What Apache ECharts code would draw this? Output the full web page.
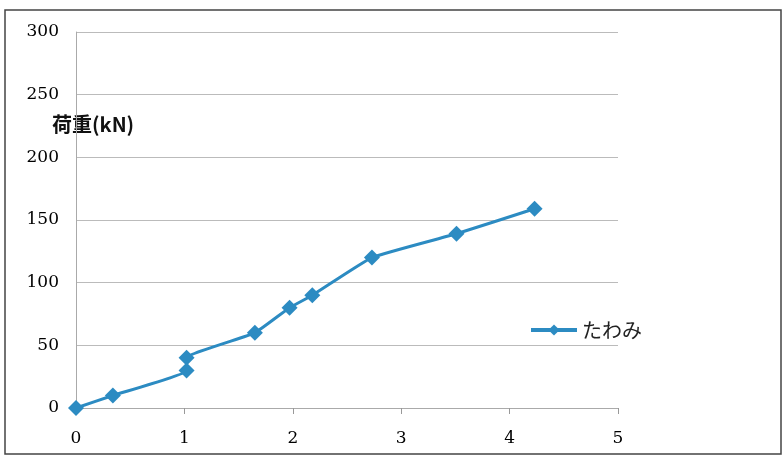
<!DOCTYPE html>
<html><head><meta charset="utf-8">
<script src="https://cdn.jsdelivr.net/npm/echarts@6/dist/echarts.min.js"></script>
<style>html,body{margin:0;padding:0;background:#fff}#c{width:784px;height:459px}</style>
</head><body><div id="c"></div>
<script>
const deflection = [0, 0.34, 1.02, 1.02, 1.65, 1.97, 2.18, 2.73, 3.51, 4.23];
const load = [0, 10, 30, 40, 60, 80, 90, 120, 139, 159];
const seriesName = 'たわみ';
const yTitle = '荷重(kN)';

const chart = echarts.init(document.getElementById('c'));
chart.setOption({
  animation: false,
  backgroundColor: '#fff',
  grid: {left: 76, right: 166, top: 32, bottom: 51},
  legend: {
    data: [seriesName], left: 524, top: 315, itemWidth: 46, itemHeight: 14, itemGap: 4,
    itemStyle: {color: '#2c8bc2'},
    lineStyle: {width: 4, color: '#2c8bc2'},
    textStyle: {fontSize: 20, color: '#222', fontFamily: 'Noto Sans CJK JP', padding: [0, 0, 0, 0]}
  },
  graphic: [
    {type: 'rect', shape: {x: 5, y: 10, width: 776, height: 444}, style: {fill: 'none', stroke: '#444', lineWidth: 1.5}, silent: true},
    {type: 'text', left: 52, top: 114, style: {text: yTitle, fontSize: 20, fontWeight: 'bold', fill: '#111', fontFamily: 'Noto Sans CJK JP'}}
  ],
  xAxis: {
    type: 'value', min: 0, max: 5, interval: 1,
    axisLine: {show: true, lineStyle: {color: '#aaa'}},
    axisTick: {show: true, length: 6, lineStyle: {color: '#999'}},
    splitLine: {show: false},
    axisLabel: {fontSize: 17, color: '#000', fontFamily: 'DejaVu Serif', margin: 22}
  },
  yAxis: {
    type: 'value', min: 0, max: 300, interval: 50,
    axisLine: {show: true, lineStyle: {color: '#aaa'}},
    axisTick: {show: false},
    splitLine: {lineStyle: {color: '#bbb'}},
    axisLabel: {fontSize: 17, color: '#000', fontFamily: 'DejaVu Serif', margin: 17}
  },
  series: [{
    name: seriesName, type: 'line',
    data: deflection.map((x, i) => [x, load[i]]),
    smooth: 0.12,
    symbol: 'diamond', symbolSize: 16,
    lineStyle: {color: '#2c8bc2', width: 3},
    itemStyle: {color: '#2c8bc2'}
  }]
});
</script></body></html>
